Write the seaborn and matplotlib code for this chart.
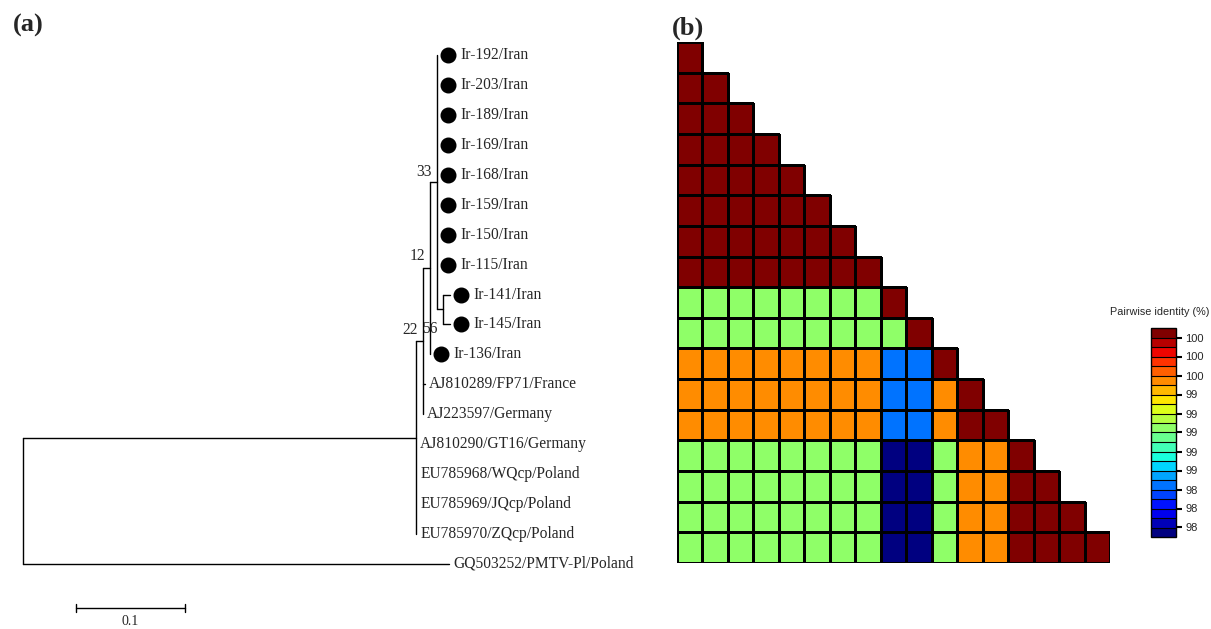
import matplotlib
matplotlib.use("Agg")
import matplotlib.pyplot as plt
import matplotlib.transforms as mtransforms
import numpy as np
import pandas as pd
import seaborn as sns

# ==== Data ==== #
# tip labels of the tree, top to bottom
taxa = ["Ir-192/Iran", "Ir-203/Iran", "Ir-189/Iran", "Ir-169/Iran", "Ir-168/Iran",
        "Ir-159/Iran", "Ir-150/Iran", "Ir-115/Iran", "Ir-141/Iran", "Ir-145/Iran",
        "Ir-136/Iran", "AJ810289/FP71/France", "AJ223597/Germany",
        "AJ810290/GT16/Germany", "EU785968/WQcp/Poland", "EU785969/JQcp/Poland",
        "EU785970/ZQcp/Poland", "GQ503252/PMTV-Pl/Poland"]
marked = [True] * 11 + [False] * 7

# tree: (branch length, children or tip index, bootstrap)
tree = (0.0, [
    (0.3606, [
        (0.0064, [
            (0.0064, [
                (0.0064, [(0.0, 0, None), (0.0, 1, None), (0.0, 2, None), (0.0, 3, None),
                          (0.0, 4, None), (0.0, 5, None), (0.0, 6, None), (0.0, 7, None),
                          (0.0055, [(0.0064, 8, None), (0.0064, 9, None)], "56")], "33"),
                (0.0, 10, None)], "12"),
            (0.002, 11, None),
            (0.0, 12, None)], "22"),
        (0.0, 13, None), (0.0, 14, None), (0.0, 15, None), (0.0, 16, None)], None),
    (0.3908, 17, None)], None)

scale_len = 0.1

# pairwise identity (%), lower triangle incl. diagonal, panel (b)
identity = [
    [100.0],
    [100.0, 100.0],
    [100.0, 100.0, 100.0],
    [100.0, 100.0, 100.0, 100.0],
    [100.0, 100.0, 100.0, 100.0, 100.0],
    [100.0, 100.0, 100.0, 100.0, 100.0, 100.0],
    [100.0, 100.0, 100.0, 100.0, 100.0, 100.0, 100.0],
    [100.0, 100.0, 100.0, 100.0, 100.0, 100.0, 100.0, 100.0],
    [98.95, 98.95, 98.95, 98.95, 98.95, 98.95, 98.95, 98.95, 100.0],
    [98.95, 98.95, 98.95, 98.95, 98.95, 98.95, 98.95, 98.95, 98.95, 100.0],
    [99.45, 99.45, 99.45, 99.45, 99.45, 99.45, 99.45, 99.45, 98.35, 98.35, 100.0],
    [99.45, 99.45, 99.45, 99.45, 99.45, 99.45, 99.45, 99.45, 98.35, 98.35, 99.45, 100.0],
    [99.45, 99.45, 99.45, 99.45, 99.45, 99.45, 99.45, 99.45, 98.35, 98.35, 99.45, 100.0, 100.0],
    [98.95, 98.95, 98.95, 98.95, 98.95, 98.95, 98.95, 98.95, 97.85, 97.85, 98.95, 99.45, 99.45, 100.0],
    [98.95, 98.95, 98.95, 98.95, 98.95, 98.95, 98.95, 98.95, 97.85, 97.85, 98.95, 99.45, 99.45, 100.0, 100.0],
    [98.95, 98.95, 98.95, 98.95, 98.95, 98.95, 98.95, 98.95, 97.85, 97.85, 98.95, 99.45, 99.45, 100.0, 100.0, 100.0],
    [98.95, 98.95, 98.95, 98.95, 98.95, 98.95, 98.95, 98.95, 97.85, 97.85, 98.95, 99.45, 99.45, 100.0, 100.0, 100.0, 100.0],
]
vmin, vmax, n_bins = 97.8, 100.0, 22
cbar_ticks = [99.9, 99.7, 99.5, 99.3, 99.1, 98.9, 98.7, 98.5, 98.3, 98.1, 97.9]
cbar_labels = ["100", "100", "100", "99", "99", "99", "99", "99", "98", "98", "98"]

# ==== Figure ==== #
sns.set_theme(style="white")
plt.rcParams['font.family'] = ['Liberation Serif', 'DejaVu Serif']

W, H = 1211, 629
fig = plt.figure(figsize=(W / 100, H / 100), dpi=100)

# ---- (a) tree ---- #
ax = fig.add_axes([0, 0, 670 / W, 1])
ax.axis("off")
px = 1090.0  # pixels per branch length unit
row = 29.94  # pixels per tip
ax.set_xlim(-23 / px, (670 - 23) / px)
ax.set_ylim((H - 55) / row, -55 / row)

lw = 1.0
tips = []
sup_offsets = {"33": (-5, 10), "12": (-5, 12), "22": (-5, 11), "56": (-5, -20)}


def draw(node, x0):
    bl, kids, sup = node
    x = x0 + bl
    if isinstance(kids, int):
        y = kids
        if bl > 0:
            ax.plot([x0, x], [y, y], color="black", lw=lw)
        tips.append((x, y, kids))
        return y
    ys = [draw(k, x) for k in kids]
    y = (ys[0] + ys[-1]) / 2
    ax.plot([x, x], [ys[0], ys[-1]], color="black", lw=lw)
    if bl > 0:
        ax.plot([x0, x], [y, y], color="black", lw=lw)
    if sup:
        dx, dy = sup_offsets[sup]
        ax.annotate(sup, (x, y), xytext=(dx * 0.72, dy * 0.72), textcoords="offset points",
                    ha="right", va="center", fontsize=11.2)
    return y


draw(tree, 0.0)

mark_tr = mtransforms.offset_copy(ax.transData, fig=fig, x=11, y=0, units="dots")
for x, y, i in tips:
    if marked[i]:
        ax.plot(x, y, "o", color="black", markersize=10.5, transform=mark_tr)
        off = 23
    else:
        off = 4
    ax.annotate(taxa[i], (x, y), xytext=(off * 0.72, 0), textcoords="offset points",
                ha="left", va="center", fontsize=11.2)

# scale bar
sb_x0, sb_y = (76 - 23) / px, (608 - 55) / row
ax.plot([sb_x0, sb_x0 + scale_len], [sb_y, sb_y], color="black", lw=lw)
for xx in (sb_x0, sb_x0 + scale_len):
    ax.plot([xx, xx], [sb_y - 0.15, sb_y + 0.15], color="black", lw=lw)
ax.text(sb_x0 + scale_len / 2, sb_y + 0.45, "0.1", ha="center", va="center", fontsize=10)

fig.text(13 / W, 1 - 25 / H, "(a)", fontsize=19, fontweight="bold", ha="left", va="center")
fig.text(672 / W, 1 - 28 / H, "(b)", fontsize=19, fontweight="bold", ha="left", va="center")

# ---- (b) pairwise identity heatmap ---- #
n = len(identity)
mat = np.full((n, n), np.nan)
for i, r in enumerate(identity):
    mat[i, :len(r)] = r
df = pd.DataFrame(mat, index=taxa[:n], columns=taxa[:n])
mask = np.triu(np.ones((n, n), dtype=bool), k=1)

hax = fig.add_axes([677 / W, 1 - 563 / H, 433 / W, 521 / H])
cax = fig.add_axes([1151 / W, 1 - 537 / H, 25 / W, 209 / H])
cmap = plt.get_cmap("jet", n_bins)
sns.heatmap(df, mask=mask, cmap=cmap, vmin=vmin, vmax=vmax, linewidths=0.8,
            linecolor="black", xticklabels=False, yticklabels=False,
            ax=hax, cbar_ax=cax, cbar_kws={"drawedges": True})
hax.set_xlabel("")
hax.set_ylabel("")

# no outlines on the empty upper triangle
mesh = hax.collections[0]
edge = np.zeros((n * n, 4))
edge[~mask.ravel(), 3] = 1.0
mesh.set_edgecolor(edge)

cbar = mesh.colorbar
cbar.set_ticks(cbar_ticks, labels=cbar_labels)
cbar.outline.set_linewidth(1.0)
cbar.outline.set_edgecolor("black")
cbar.dividers.set_color("black")
cbar.dividers.set_linewidth(0.8)
cax.tick_params(axis="y", length=4, width=1.5, color="black", direction="out",
                labelsize=8, pad=2.5, right=True)
for t in cax.get_yticklabels():
    t.set_family("Liberation Sans")
fig.text(1160 / W, 1 - 312 / H, "Pairwise identity (%)", family="Liberation Sans",
         fontsize=7.8, ha="center", va="center")

fig.savefig("out.png", dpi=100)
